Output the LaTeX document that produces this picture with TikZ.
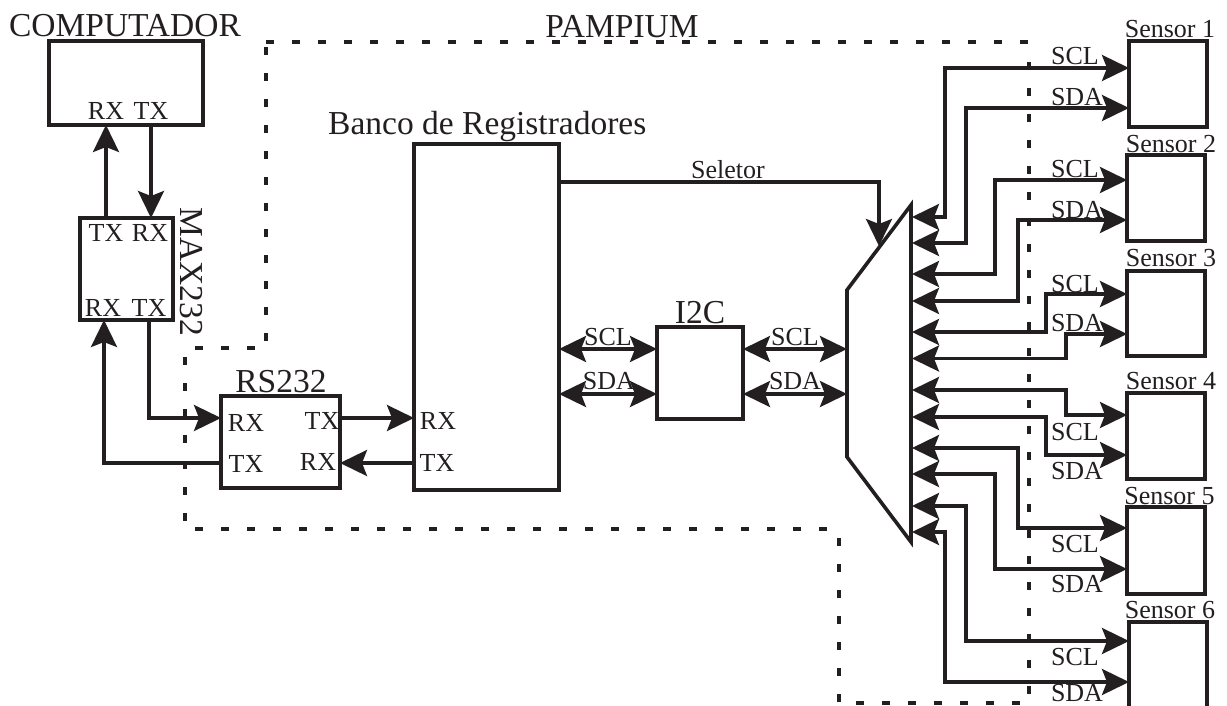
\documentclass[tikz,border=0pt]{standalone}
\usepackage{fontspec}
\setmainfont{Liberation Serif}
\usetikzlibrary{arrows.meta}
\definecolor{ink}{HTML}{231F20}
\tikzset{
  x=1pt,y=-1pt,
  boxnode/.style={draw=ink,line width=3.6pt,inner sep=0pt,outer sep=0pt,fill=none,line join=miter},
  conn/.style={draw=ink,line width=3.5pt,line join=miter,-{Stealth[length=27pt,width=26pt,inset=5pt]}},
  biconn/.style={draw=ink,line width=3.5pt,line join=miter,{Stealth[length=27pt,width=26pt,inset=5pt]}-{Stealth[length=27pt,width=26pt,inset=5pt]}},
  boundary/.style={draw=ink,line width=3.5pt,dash pattern=on 7.5pt off 18.5pt},
  big/.style={text=ink,anchor=base,inner sep=0pt,font=\fontsize{33.5}{36}\selectfont},
  small/.style={text=ink,anchor=base,inner sep=0pt,font=\fontsize{26}{28}\selectfont},
}
\begin{document}
\begin{tikzpicture}
\useasboundingbox (0,0) rectangle (1227,705);
% PAMPIUM boundary
\draw[boundary] (266,42) -- (1031,42);
\draw[boundary] (1029,62) -- (1029,703);
\draw[boundary] (856,703) -- (1022,703);
\draw[boundary] (839,538) -- (839,703);
\draw[boundary] (195,529) -- (836,529);
\draw[boundary] (185,357) -- (185,523);
\draw[boundary] (195,348) -- (256,348);
\draw[boundary] (266,47) -- (266,343);
% blocks
\node[boxnode,minimum width=154pt,minimum height=84pt] (comp) at (126,83) {};
\node[boxnode,minimum width=93pt,minimum height=102pt] (maxc) at (126.5,269) {};
\node[boxnode,minimum width=119pt,minimum height=92pt] (rs) at (280.5,442) {};
\node[boxnode,minimum width=145pt,minimum height=346pt] (bank) at (486.5,317) {};
\node[boxnode,minimum width=86pt,minimum height=92pt] (itc) at (700,373) {};
\node[inner sep=0pt,outer sep=0pt,minimum width=64pt,minimum height=337pt] (mux) at (879,373.5) {};
\draw[draw=ink,line width=3.6pt,line join=miter] (mux.north east) -- (mux.east) -- (mux.south east) -- (847,457) -- (847,290) -- cycle;
\node[boxnode,minimum width=78pt,minimum height=86pt] (s1) at (1168,84) {};
\node[boxnode,minimum width=78pt,minimum height=86pt] (s2) at (1166,198) {};
\node[boxnode,minimum width=78pt,minimum height=85pt] (s3) at (1166,313.5) {};
\node[boxnode,minimum width=78pt,minimum height=86pt] (s4) at (1166,436) {};
\node[boxnode,minimum width=78pt,minimum height=87pt] (s5) at (1166,550.5) {};
\node[boxnode,minimum width=78pt,minimum height=110pt] (s6) at (1168,677) {};
% mux ports
\coordinate (p1) at (912,217);
\coordinate (p2) at (912,243);
\coordinate (p3) at (912,274);
\coordinate (p4) at (912,301);
\coordinate (p5) at (912,332);
\coordinate (p6) at (912,358.5);
\coordinate (p7) at (912,390);
\coordinate (p8) at (912,417);
\coordinate (p9) at (912,448);
\coordinate (p10) at (912,474);
\coordinate (p11) at (912,506);
\coordinate (p12) at (912,532);
\coordinate (selin) at (879,246);
% connectors left
\draw[conn] (maxc.north -| 106,0) -- (comp.south -| 106,0);
\draw[conn] (comp.south -| 151,0) -- (maxc.north -| 151,0);
\draw[conn] (rs.west |- 0,463) -| (maxc.south -| 104,0);
\draw[conn] (maxc.south -| 149,0) |- (rs.west |- 0,418);
\draw[conn] (rs.east |- 0,418) -- (bank.west |- 0,418);
\draw[conn] (bank.west |- 0,463) -- (rs.east |- 0,463);
\draw[conn] (bank.east |- 0,182) -| (selin);
\draw[biconn] (bank.east |- 0,349) -- (itc.west |- 0,349);
\draw[biconn] (bank.east |- 0,394) -- (itc.west |- 0,394);
\draw[biconn] (itc.east |- 0,349) -- (mux.west |- 0,349);
\draw[biconn] (itc.east |- 0,394) -- (mux.west |- 0,394);
% sensor connectors
\draw[biconn] (p1) -| (945,68) -- (s1.west |- 0,68);
\draw[biconn] (p2) -| (966,108) -- (s1.west |- 0,108);
\draw[biconn] (p3) -| (995,180) -- (s2.west |- 0,180);
\draw[biconn] (p4) -| (1018,220) -- (s2.west |- 0,220);
\draw[biconn] (p5) -| (1046,294) -- (s3.west |- 0,294);
\draw[biconn] (p6) -| (1066,334) -- (s3.west |- 0,334);
\draw[biconn] (p7) -| (1066,415) -- (s4.west |- 0,415);
\draw[biconn] (p8) -| (1046,455) -- (s4.west |- 0,455);
\draw[biconn] (p9) -| (1018,528) -- (s5.west |- 0,528);
\draw[biconn] (p10) -| (995,569) -- (s5.west |- 0,569);
\draw[biconn] (p11) -| (966,641) -- (s6.west |- 0,641);
\draw[biconn] (p12) -| (945,682) -- (s6.west |- 0,682);
% big labels
\node[big] (tcomp) at (125,36) {COMPUTADOR};
\node[big] (tpamp) at (622,37) {PAMPIUM};
\node[big,anchor=base west] (tbank) at (328,134) {Banco de Registradores};
\node[big,rotate=-90] (tmax) at (180,272) {MAX232};
\node[big] (trs) at (281,392) {RS232};
\node[big] (titc) at (700,323) {I2C};
% small labels
\node[small] (a1) at (106,119) {RX};
\node[small] (a2) at (151,119) {TX};
\node[small] (a3) at (106,241) {TX};
\node[small] (a4) at (150,241) {RX};
\node[small] (a5) at (103,316) {RX};
\node[small] (a6) at (149,316) {TX};
\node[small] (a7) at (246,431) {RX};
\node[small] (a8) at (322,429) {TX};
\node[small] (a9) at (246,472) {TX};
\node[small] (a10) at (318,470) {RX};
\node[small] (a11) at (438,429) {RX};
\node[small] (a12) at (437,471) {TX};
\node[small] (b1) at (608,345) {SCL};
\node[small] (b2) at (609,389) {SDA};
\node[small] (b3) at (795,345) {SCL};
\node[small] (b4) at (795,389) {SDA};
\node[small] (b5) at (728,178) {Seletor};
\node[small] (c1) at (1170,37) {Sensor 1};
\node[small] (c2) at (1171,152) {Sensor 2};
\node[small] (c3) at (1171,266) {Sensor 3};
\node[small] (c4) at (1171,389) {Sensor 4};
\node[small] (c5) at (1169.5,504) {Sensor 5};
\node[small] (c6) at (1170,618) {Sensor 6};
\node[small] (d1) at (1075,64) {SCL};
\node[small] (d2) at (1077,105) {SDA};
\node[small] (d3) at (1075,177) {SCL};
\node[small] (d4) at (1077,218) {SDA};
\node[small] (d5) at (1075,292) {SCL};
\node[small] (d6) at (1077,331) {SDA};
\node[small] (d7) at (1075,440) {SCL};
\node[small] (d8) at (1077,479) {SDA};
\node[small] (d9) at (1075,552) {SCL};
\node[small] (d10) at (1077,592) {SDA};
\node[small] (d11) at (1075,665) {SCL};
\node[small] (d12) at (1077,701) {SDA};
\end{tikzpicture}
\end{document}
